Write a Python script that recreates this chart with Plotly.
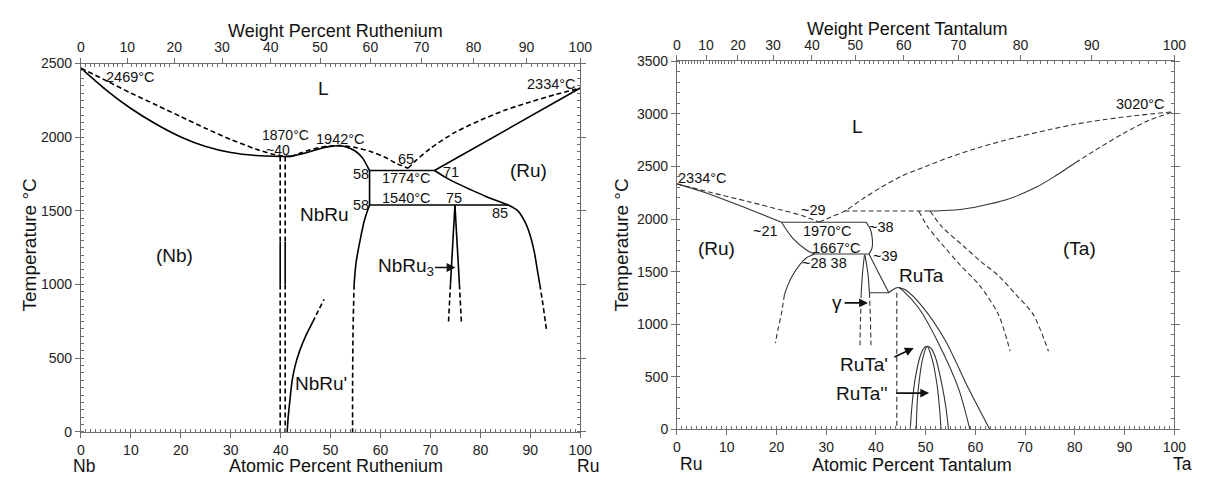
import plotly.graph_objects as go

# ---------------- atomic masses (for the weight-percent top axes) ----------------
M_NB, M_RU, M_TA = 92.906, 101.07, 180.948
WT_MAJOR = [0, 10, 20, 30, 40, 50, 60, 70, 80, 90, 100]
WT_LABELS = ["0", "10", "20", "30", "40", "50", "60", "70", "80", "90", "100"]
AT_MAJOR = [0, 10, 20, 30, 40, 50, 60, 70, 80, 90, 100]
AT_LABELS = ["0", "10", "20", "30", "40", "50", "60", "70", "80", "90", "100"]
Y1_TICKS = [0, 500, 1000, 1500, 2000, 2500]
Y2_TICKS = [0, 500, 1000, 1500, 2000, 2500, 3000, 3500]

# ---------------- Nb-Ru (atomic % Ru, degC) ----------------
NR_LIQ1_X = [0, 5, 10, 15, 20, 25, 30, 35, 38, 40, 42]
NR_LIQ1_T = [2469, 2385, 2300, 2220, 2140, 2060, 1985, 1920, 1888, 1874, 1870]
NR_SOL1_X = [0, 5, 10, 15, 20, 25, 30, 35, 40, 42]
NR_SOL1_T = [2469, 2322, 2195, 2090, 2002, 1937, 1896, 1876, 1870, 1870]
NR_LIQ2_X = [42, 44, 46, 48, 50, 52, 55, 58, 61, 63, 65.5]
NR_LIQ2_T = [1870, 1893, 1915, 1932, 1941, 1943, 1930, 1903, 1862, 1825, 1790]
NR_SOL2_X = [42, 44, 46, 48, 50, 51.5, 53, 55, 56.5, 57.3, 57.8]
NR_SOL2_T = [1870, 1884, 1903, 1924, 1938, 1942, 1936, 1905, 1855, 1805, 1774]
NR_LIQ3_X = [65.5, 67, 70, 75, 80, 85, 90, 95, 100]
NR_LIQ3_T = [1790, 1840, 1925, 2035, 2115, 2185, 2240, 2290, 2334]
NR_RUSOL_X = [70.8, 100]
NR_RUSOL_T = [1774, 2334]
NR_P1774_X = [57.8, 70.8]
NR_P1774_T = [1774, 1774]
NR_V58_X = [57.8, 57.8]
NR_V58_T = [1774, 1540]
NR_P1540_X = [57.8, 85.6]
NR_P1540_T = [1540, 1540]
NR_RUCURVE_X = [70.8, 73, 75, 78, 81, 84, 85.6]
NR_RUCURVE_T = [1774, 1728, 1692, 1645, 1600, 1560, 1540]
NR_RUSOLV_X = [85.6, 87.5, 89, 90, 90.8, 91.4, 91.9]
NR_RUSOLV_T = [1540, 1500, 1420, 1330, 1220, 1100, 1000]
NR_RUSOLV_D_X = [91.9, 92.5, 93.2]
NR_RUSOLV_D_T = [1000, 870, 700]
NR_NBRU_R_X = [57.8, 56.8, 55.9, 55.1, 54.7]
NR_NBRU_R_T = [1540, 1440, 1300, 1150, 1000]
NR_NBRU_RD_X = [54.7, 54.5, 54.4, 54.4]
NR_NBRU_RD_T = [1000, 700, 300, 0]
NR_NBRU3_L_X = [74.9, 74.0]
NR_NBRU3_L_T = [1540, 1000]
NR_NBRU3_LD_X = [74.0, 73.6]
NR_NBRU3_LD_T = [1000, 740]
NR_NBRU3_R_X = [74.9, 75.8]
NR_NBRU3_R_T = [1540, 1000]
NR_NBRU3_RD_X = [75.8, 76.2]
NR_NBRU3_RD_T = [1000, 740]
NR_V40_X = [39.9, 40.9]
NR_V40_TOP = [1870, 1290]
NR_V40_MID = [1290, 1000]
NR_V40_BOT = [1000, 0]
NR_PRIME_X = [41.3, 41.5, 41.8, 42.3, 42.9, 43.8, 45, 46.4]
NR_PRIME_T = [0, 100, 200, 350, 450, 550, 650, 745]
NR_PRIME_D_X = [46.4, 47.5, 48.7]
NR_PRIME_D_T = [745, 820, 900]

# ---------------- Ru-Ta (atomic % Ta, degC) ----------------
RT_RUSOL_X = [0, 5, 10.6, 16, 21]
RT_RUSOL_T = [2334, 2262, 2165, 2065, 1970]
RT_RULIQ_X = [0, 7, 14.4, 21, 25, 28.6]
RT_RULIQ_T = [2334, 2250, 2165, 2085, 2035, 1970]
RT_P1970_X = [21, 38]
RT_P1970_T = [1970, 1970]
RT_C2128_X = [21, 23.4, 26.1, 27.7]
RT_C2128_T = [1970, 1811, 1704, 1667]
RT_BULGE_X = [38, 38.9, 39.3, 39.2, 38.6]
RT_BULGE_T = [1970, 1900, 1800, 1720, 1667]
RT_P1667_X = [27.7, 38.6]
RT_P1667_T = [1667, 1667]
RT_RUSOLV_X = [27.7, 26, 24.7, 23.2, 22.2, 21.6]
RT_RUSOLV_T = [1667, 1630, 1567, 1460, 1360, 1280]
RT_RUSOLV_D_X = [21.6, 21.0, 20.3, 19.8]
RT_RUSOLV_D_T = [1280, 1100, 950, 820]
RT_GAML_X = [37.7, 37.3, 37.05]
RT_GAML_T = [1660, 1480, 1300]
RT_GAML_D_X = [37.05, 36.9, 36.8]
RT_GAML_D_T = [1300, 1050, 800]
RT_GAMR_X = [37.8, 38.4, 38.7]
RT_GAMR_T = [1660, 1480, 1300]
RT_GAMR_D_X = [38.7, 38.9, 39.0]
RT_GAMR_D_T = [1300, 1050, 800]
RT_RUTA_L_X = [38.6, 42.6]
RT_RUTA_L_T = [1667, 1300]
RT_L1300_X = [38.7, 42.6]
RT_L1300_T = [1300, 1300]
RT_BUMP_X = [42.6, 43.3, 44.0, 44.6]
RT_BUMP_T = [1300, 1325, 1345, 1350]
RT_RUTA_D_X = [44.2, 44.2]
RT_RUTA_D_T = [1300, 0]
RT_RUTA_IN_X = [44.6, 45.5, 48.6, 52.6, 56.6, 58.9]
RT_RUTA_IN_T = [1350, 1318, 1154, 818, 391, 0]
RT_RUTA_OUT_X = [44.6, 46.0, 49.3, 53.9, 58.6, 62.9]
RT_RUTA_OUT_T = [1350, 1325, 1170, 850, 391, 0]
RT_DOME_OUT_X = [46.9, 47.3, 47.9, 48.9, 49.7, 50.3, 51.0, 51.9, 53.3, 54.1, 54.6]
RT_DOME_OUT_T = [0, 250, 483, 696, 775, 790, 775, 696, 421, 200, 0]
RT_DOME_IN_X = [48.1, 48.3, 48.6, 49.4, 50.3, 51.3, 52.3, 52.8, 53.1]
RT_DOME_IN_T = [0, 250, 421, 672, 790, 672, 421, 200, 0]
RT_TASOL_X = [50.7, 56.9, 60.8, 66.2, 72.4, 76.2, 80.1]
RT_TASOL_T = [2076, 2091, 2122, 2183, 2306, 2413, 2535]
RT_TASOL_D_X = [80.1, 85, 90, 95, 100]
RT_TASOL_D_T = [2535, 2680, 2820, 2940, 3020]
RT_TALIQ_X = [28.6, 31, 33.7, 37.6, 41, 45.3, 50, 55, 60.8, 68.5, 75, 80, 86, 91.7, 100]
RT_TALIQ_T = [1970, 2020, 2075, 2200, 2300, 2410, 2500, 2590, 2680, 2780, 2850, 2900, 2945, 2980, 3020]
RT_P2075_X = [33.7, 50.7]
RT_P2075_T = [2076, 2076]
RT_TASOLV_A_X = [48.6, 50.5, 53.2, 57, 60.8, 64.6, 67]
RT_TASOLV_A_T = [2076, 1920, 1765, 1560, 1372, 1096, 744]
RT_TASOLV_B_X = [50.9, 53.2, 57.7, 61, 64.6, 68, 71.6, 74.7]
RT_TASOLV_B_T = [2076, 1930, 1739, 1600, 1464, 1290, 1096, 744]

FONT = "Liberation Sans, Arial, sans-serif"


def wt_to_at(w, m_solute, m_solvent):
    if w >= 100:
        return 100.0
    a = w / m_solute
    b = (100.0 - w) / m_solvent
    return 100.0 * a / (a + b)


fig = go.Figure()


def add(xs, ts, panel, dashed=False, smooth=True):
    ax = "x" if panel == 1 else "x2"
    ay = "y" if panel == 1 else "y2"
    color = "#000000" if panel == 1 else "#333333"
    width = 1.6 if panel == 1 else 1.1
    fig.add_trace(go.Scatter(
        x=xs, y=ts, xaxis=ax, yaxis=ay, mode="lines",
        line=dict(color=color, width=width,
                  dash="5px,3px" if dashed else "solid",
                  shape="spline" if smooth else "linear", smoothing=0.8),
        hoverinfo="skip", showlegend=False))


# Nb-Ru
add(NR_LIQ1_X, NR_LIQ1_T, 1, True)
add(NR_SOL1_X, NR_SOL1_T, 1)
add(NR_LIQ2_X, NR_LIQ2_T, 1, True)
add(NR_SOL2_X, NR_SOL2_T, 1)
add(NR_LIQ3_X, NR_LIQ3_T, 1, True)
add(NR_RUSOL_X, NR_RUSOL_T, 1, smooth=False)
add(NR_P1774_X, NR_P1774_T, 1, smooth=False)
add(NR_V58_X, NR_V58_T, 1, smooth=False)
add(NR_P1540_X, NR_P1540_T, 1, smooth=False)
add(NR_RUCURVE_X, NR_RUCURVE_T, 1)
add(NR_RUSOLV_X, NR_RUSOLV_T, 1)
add(NR_RUSOLV_D_X, NR_RUSOLV_D_T, 1, True)
add(NR_NBRU_R_X, NR_NBRU_R_T, 1)
add(NR_NBRU_RD_X, NR_NBRU_RD_T, 1, True)
add(NR_NBRU3_L_X, NR_NBRU3_L_T, 1, smooth=False)
add(NR_NBRU3_LD_X, NR_NBRU3_LD_T, 1, True, smooth=False)
add(NR_NBRU3_R_X, NR_NBRU3_R_T, 1, smooth=False)
add(NR_NBRU3_RD_X, NR_NBRU3_RD_T, 1, True, smooth=False)
for vx in NR_V40_X:
    add([vx, vx], NR_V40_TOP, 1, True, smooth=False)
    add([vx, vx], NR_V40_MID, 1, smooth=False)
    add([vx, vx], NR_V40_BOT, 1, True, smooth=False)
add(NR_PRIME_X, NR_PRIME_T, 1)
add(NR_PRIME_D_X, NR_PRIME_D_T, 1, True)

# Ru-Ta
add(RT_RUSOL_X, RT_RUSOL_T, 2)
add(RT_RULIQ_X, RT_RULIQ_T, 2, True)
add(RT_P1970_X, RT_P1970_T, 2, smooth=False)
add(RT_C2128_X, RT_C2128_T, 2)
add(RT_BULGE_X, RT_BULGE_T, 2)
add(RT_P1667_X, RT_P1667_T, 2, smooth=False)
add(RT_RUSOLV_X, RT_RUSOLV_T, 2)
add(RT_RUSOLV_D_X, RT_RUSOLV_D_T, 2, True)
add(RT_GAML_X, RT_GAML_T, 2)
add(RT_GAML_D_X, RT_GAML_D_T, 2, True)
add(RT_GAMR_X, RT_GAMR_T, 2)
add(RT_GAMR_D_X, RT_GAMR_D_T, 2, True)
add(RT_RUTA_L_X, RT_RUTA_L_T, 2, smooth=False)
add(RT_L1300_X, RT_L1300_T, 2, smooth=False)
add(RT_BUMP_X, RT_BUMP_T, 2)
add(RT_RUTA_D_X, RT_RUTA_D_T, 2, True, smooth=False)
add(RT_RUTA_IN_X, RT_RUTA_IN_T, 2)
add(RT_RUTA_OUT_X, RT_RUTA_OUT_T, 2)
add(RT_DOME_OUT_X, RT_DOME_OUT_T, 2)
add(RT_DOME_IN_X, RT_DOME_IN_T, 2)
add(RT_TASOL_X, RT_TASOL_T, 2)
add(RT_TASOL_D_X, RT_TASOL_D_T, 2, True)
add(RT_TALIQ_X, RT_TALIQ_T, 2, True)
add(RT_P2075_X, RT_P2075_T, 2, True, smooth=False)
add(RT_TASOLV_A_X, RT_TASOLV_A_T, 2, True)
add(RT_TASOLV_B_X, RT_TASOLV_B_T, 2, True)

# invisible anchors so the top axes are drawn
fig.add_trace(go.Scatter(x=[0], y=[0], xaxis="x3", yaxis="y", mode="markers",
                         marker=dict(opacity=0), hoverinfo="skip", showlegend=False))
fig.add_trace(go.Scatter(x=[0], y=[0], xaxis="x4", yaxis="y2", mode="markers",
                         marker=dict(opacity=0), hoverinfo="skip", showlegend=False))

W, H = 1209, 481
AX = "#6e6e6e"
tickfont = dict(family=FONT, size=14, color="#222")


def xbottom(domain):
    return dict(domain=domain, range=[0, 100], tickmode="array", tickvals=AT_MAJOR,
                ticktext=AT_LABELS, ticks="outside", ticklen=5, tickcolor=AX,
                showline=True, linecolor=AX, linewidth=1, showgrid=False, zeroline=False,
                minor=dict(tick0=0, dtick=1, ticks="inside", ticklen=3, tickcolor=AX),
                tickfont=tickfont, fixedrange=True)


def xtop(over, anchor, m_solute, m_solvent):
    major = [wt_to_at(w, m_solute, m_solvent) for w in WT_MAJOR]
    minor = [wt_to_at(w, m_solute, m_solvent) for w in range(0, 101) if w % 10 != 0]
    return dict(overlaying=over, anchor=anchor, side="top", range=[0, 100],
                tickmode="array", tickvals=major, ticktext=WT_LABELS,
                ticks="outside", ticklen=5, tickcolor=AX, showline=True, linecolor=AX,
                linewidth=1, showgrid=False, zeroline=False,
                minor=dict(tickmode="array", tickvals=minor, ticks="inside", ticklen=3,
                           tickcolor=AX),
                tickfont=tickfont, fixedrange=True)


def yaxis(domain, rng, vals, mdt, anchor):
    return dict(domain=domain, range=rng, anchor=anchor, tickmode="array", tickvals=vals,
                ticktext=[str(v) for v in vals], ticks="outside", ticklen=5,
                tickcolor=AX, showline=True, linecolor=AX, linewidth=1, mirror="ticks",
                showgrid=False, zeroline=False,
                minor=dict(tick0=0, dtick=mdt, ticks="inside", ticklen=3, tickcolor=AX),
                tickfont=tickfont, fixedrange=True)


fig.update_layout(
    width=W, height=H, margin=dict(l=0, r=0, t=0, b=0),
    paper_bgcolor="white", plot_bgcolor="white",
    xaxis=xbottom([78 / W, 584 / W]) | dict(anchor="y"),
    yaxis=yaxis([1 - 438.5 / H, 1 - 57.5 / H], [0, 2500], Y1_TICKS, 50, "x"),
    xaxis2=xbottom([682 / W, 1186 / W]) | dict(anchor="y2"),
    yaxis2=yaxis([1 - 436 / H, 1 - 55 / H], [0, 3500], Y2_TICKS, 100, "x2"),
    xaxis3=xtop("x", "y", M_RU, M_NB),
    xaxis4=xtop("x2", "y2", M_TA, M_RU),
    font=dict(family=FONT, color="#111"),
)

ann = []


def lab(text, x, y, panel, size=14.5):
    ann.append(dict(text=text, x=x, y=y, xref="x" if panel == 1 else "x2",
                    yref="y" if panel == 1 else "y2", showarrow=False,
                    xanchor="center", yanchor="middle",
                    font=dict(family=FONT, size=size, color="#111")))


def paper(text, px, py, size=18, angle=0):
    ann.append(dict(text=text, x=px / W, y=1 - py / H, xref="paper", yref="paper",
                    showarrow=False, textangle=angle, xanchor="center", yanchor="middle",
                    font=dict(family=FONT, size=size, color="#111")))


def arrow(x0, y0, x1, y1, panel):
    xr = "x" if panel == 1 else "x2"
    yr = "y" if panel == 1 else "y2"
    ann.append(dict(text="", x=x1, y=y1, ax=x0, ay=y0, xref=xr, yref=yr, axref=xr,
                    ayref=yr, showarrow=True, arrowhead=2, arrowsize=1.1,
                    arrowwidth=1.6, arrowcolor="#111"))


# axis titles
paper("Temperature °C", 26, 245, 19, -90)
paper("Temperature °C", 626, 245, 19, -90)
paper("Weight Percent Ruthenium", 336, 24, 18)
paper("Weight Percent Tantalum", 915, 22, 18)
paper("Atomic Percent Ruthenium", 336, 474, 18)
paper("Atomic Percent Tantalum", 920, 473, 18)
paper("Nb", 81, 474, 17.5)
paper("Ru", 592, 474, 17.5)
paper("Ru", 696, 472, 17.5)
paper("Ta", 1194, 472, 17.5)

# Nb-Ru labels
lab("2469°C", 10.0, 2406, 1)
lab("L", 48.5, 2329, 1, 19)
lab("2334°C", 94.2, 2362, 1)
lab("1870°C", 40.9, 2012, 1, 14)
lab("~40", 39.4, 1913, 1, 14)
lab("1942°C", 51.9, 1991, 1)
lab("65", 65.1, 1849, 1)
lab("58", 56.0, 1750, 1)
lab("1774°C", 65.1, 1724, 1)
lab("71", 74.2, 1761, 1)
lab("(Ru)", 89.7, 1776, 1, 19)
lab("1540°C", 65.1, 1586, 1)
lab("75", 74.8, 1586, 1)
lab("58", 56.0, 1543, 1)
lab("85", 84.0, 1484, 1)
lab("NbRu", 48.7, 1477, 1, 19)
lab("(Nb)", 18.7, 1200, 1, 19)
lab("NbRu<sub>3</sub>", 65.0, 1117, 1, 19)
lab("NbRu'", 48.1, 330, 1, 19)
arrow(70.6, 1116, 75.0, 1116, 1)

# Ru-Ta labels
lab("2334°C", 5.2, 2391, 2)
lab("L", 36.2, 2881, 2, 19)
lab("3020°C", 93.2, 3096, 2)
lab("~29", 27.4, 2082, 2)
lab("~21", 17.9, 1883, 2)
lab("1970°C", 30.3, 1886, 2)
lab("~38", 41.1, 1929, 2)
lab("(Ru)", 7.9, 1718, 2, 19)
lab("1667°C", 32.0, 1724, 2)
lab("~39", 41.9, 1647, 2)
lab("~28 38", 29.7, 1580, 2)
lab("(Ta)", 81.0, 1724, 2, 19)
lab("RuTa", 49.2, 1464, 2, 19)
lab("γ", 32.2, 1203, 2, 19)
lab("RuTa'", 37.6, 622, 2, 19)
lab("RuTa''", 37.2, 346, 2, 19)
arrow(33.4, 1203, 38.4, 1203, 2)
arrow(43.4, 683, 47.6, 775, 2)
arrow(43.8, 346, 50.7, 346, 2)

fig.update_layout(annotations=ann)
fig.write_html(
    "out.html",
    config={"displayModeBar": False},
    post_script="document.body.style.margin='0';document.body.style.overflow='hidden';"
)
